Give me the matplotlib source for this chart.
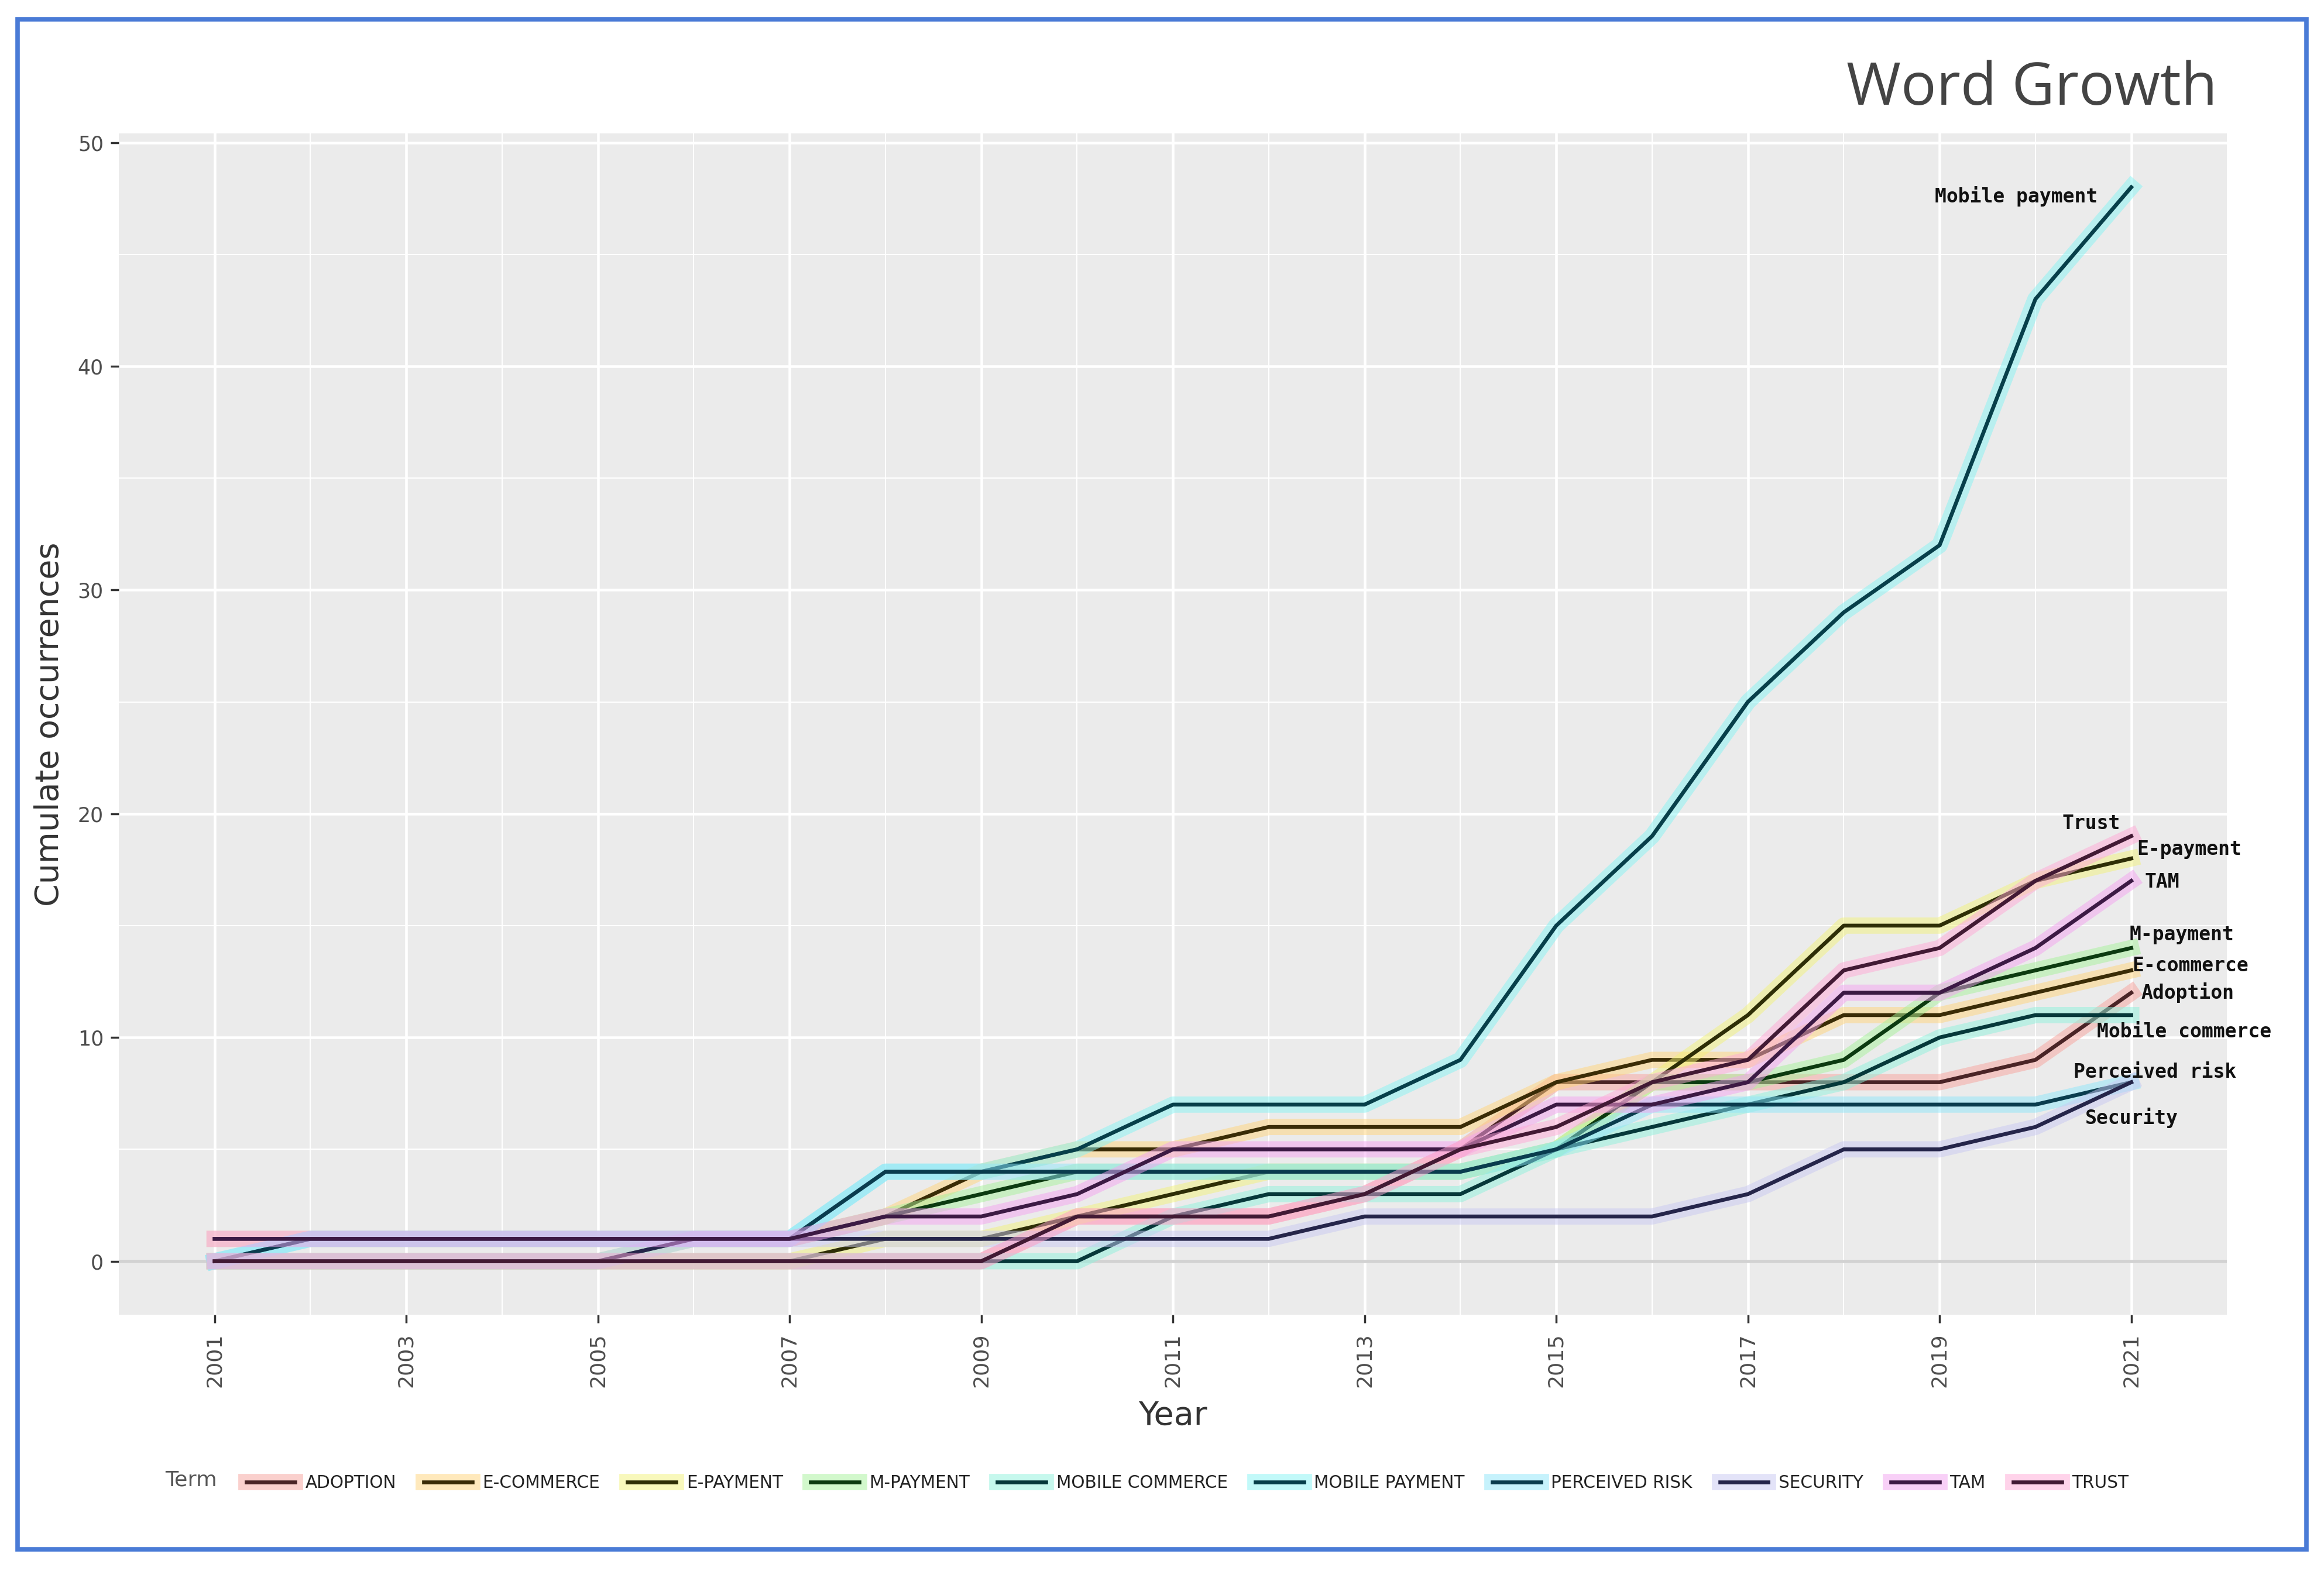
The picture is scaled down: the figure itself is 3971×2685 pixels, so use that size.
import numpy as np
import matplotlib.pyplot as plt
import matplotlib.patheffects as pe
from matplotlib.patches import Rectangle

years = list(range(2001, 2022))

adoption        = [0, 0, 0, 0, 0, 0, 0, 0, 0, 2, 2, 2, 3, 5, 8, 8, 8, 8, 8, 9, 12]
e_commerce      = [1, 1, 1, 1, 1, 1, 1, 2, 4, 5, 5, 6, 6, 6, 8, 9, 9, 11, 11, 12, 13]
e_payment       = [0, 0, 0, 0, 0, 0, 0, 1, 1, 2, 3, 4, 4, 4, 5, 8, 11, 15, 15, 17, 18]
m_payment       = [0, 0, 0, 0, 0, 1, 1, 2, 3, 4, 4, 4, 4, 4, 5, 8, 8, 9, 12, 13, 14]
mobile_commerce = [0, 0, 0, 0, 0, 0, 0, 0, 0, 0, 2, 3, 3, 3, 5, 6, 7, 8, 10, 11, 11]
mobile_payment  = [0, 1, 1, 1, 1, 1, 1, 4, 4, 5, 7, 7, 7, 9, 15, 19, 25, 29, 32, 43, 48]
perceived_risk  = [0, 1, 1, 1, 1, 1, 1, 4, 4, 4, 4, 4, 4, 4, 5, 7, 7, 7, 7, 7, 8]
security        = [0, 0, 0, 0, 0, 1, 1, 1, 1, 1, 1, 1, 2, 2, 2, 2, 3, 5, 5, 6, 8]
tam             = [1, 1, 1, 1, 1, 1, 1, 2, 2, 3, 5, 5, 5, 5, 7, 7, 8, 12, 12, 14, 17]
trust           = [0, 0, 0, 0, 0, 0, 0, 0, 0, 2, 2, 2, 3, 5, 6, 8, 9, 13, 14, 17, 19]

terms = ['ADOPTION', 'E-COMMERCE', 'E-PAYMENT', 'M-PAYMENT', 'MOBILE COMMERCE',
         'MOBILE PAYMENT', 'PERCEIVED RISK', 'SECURITY', 'TAM', 'TRUST']
labels = ['Adoption', 'E-commerce', 'E-payment', 'M-payment', 'Mobile commerce',
          'Mobile payment', 'Perceived risk', 'Security', 'TAM', 'Trust']
values = [adoption, e_commerce, e_payment, m_payment, mobile_commerce,
          mobile_payment, perceived_risk, security, tam, trust]

# halo colour / dark core colour for each term
halo = ['#f7a39c', '#ffd57a', '#f2f27a', '#a6f29a', '#8ff2dc',
        '#86f4f4', '#8fe6fa', '#c9c9f2', '#f3a2f0', '#ffa9d6']
core = ['#4a2426', '#3a2c06', '#2e2e06', '#0c3a10', '#06383a',
        '#073f4a', '#0a3c4e', '#25254a', '#3c1a44', '#421a34']

# end label offsets (dx, dy, ha) relative to the 2021 value
lab_off = {'Adoption': (0.10, 0.0, 'left'), 'E-commerce': (0.01, 0.2, 'left'),
           'E-payment': (0.06, 0.4, 'left'), 'M-payment': (-0.02, 0.6, 'left'),
           'Mobile commerce': (-0.36, -0.75, 'left'), 'Mobile payment': (-0.35, -0.4, 'right'),
           'Perceived risk': (-0.6, 0.45, 'left'), 'Security': (-0.48, -1.6, 'left'),
           'TAM': (0.14, -0.05, 'left'), 'Trust': (-0.42, 0.55, 'center')}

fig = plt.figure(figsize=(15.884, 10.74), dpi=250)
ax = fig.add_axes([0.0511, 0.163, 0.9072, 0.752])
ax.set_facecolor('#ebebeb')
for s in ax.spines.values():
    s.set_visible(False)

ax.set_xlim(2000, 2022)
ax.set_ylim(-2.4, 50.4)
ax.set_xticks(range(2001, 2022, 2))
ax.set_xticks(range(2002, 2022, 2), minor=True)
ax.set_yticks(range(0, 51, 10))
ax.set_yticks(range(5, 51, 10), minor=True)
ax.grid(which='major', color='white', lw=1.3)
ax.grid(which='minor', color='white', lw=0.6)
ax.set_axisbelow(True)
ax.tick_params(which='major', length=4, width=1, color='#333333', labelsize=10, labelcolor='#4d4d4d')
ax.tick_params(axis='x', labelsize=10.5)
ax.tick_params(which='minor', length=0)
ax.tick_params(axis='x', labelrotation=90, pad=5)
ax.axhline(0, color='#d2d2d2', lw=1.6, zorder=1)

for t, lab, v, hc, cc in zip(terms, labels, values, halo, core):
    ax.plot(years, v, color=cc, lw=1.9, label=t, zorder=3,
            path_effects=[pe.Stroke(linewidth=8, foreground=hc, alpha=0.5), pe.Normal()])

for lab, v in zip(labels, values):
    dx, dy, ha = lab_off[lab]
    ax.text(years[-1] + dx, v[-1] + dy, lab, ha=ha, va='center', fontsize=9.5,
            family='DejaVu Sans Mono', fontweight='bold', color='#111111', zorder=5)

ax.set_xlabel('Year', fontsize=16, color='#333333', labelpad=6)
ax.set_ylabel('Cumulate occurrences', fontsize=16, color='#333333', labelpad=6)

fig.text(0.954, 0.943, 'Word Growth', ha='right', va='center', fontsize=29,
         family='Open Sans', color='#444444')

leg = fig.legend(loc='center', bbox_to_anchor=(0.511, 0.056), ncol=10, frameon=False,
                 prop={'family': ['Liberation Sans Narrow', 'DejaVu Sans'], 'size': 8.5},
                 handlelength=2.8, columnspacing=1.6, handletextpad=0.6)
for txt in leg.get_texts():
    txt.set_color('#222222')
fig.text(0.071, 0.058, 'Term', ha='left', va='center', fontsize=10.5, color='#555555')

fig.patches.append(Rectangle((0.0076, 0.0138), 0.9848, 0.9739, transform=fig.transFigure,
                             fill=False, edgecolor='#4a7bd6', lw=2.2))

fig.savefig('out.png', dpi=250, facecolor='white')
